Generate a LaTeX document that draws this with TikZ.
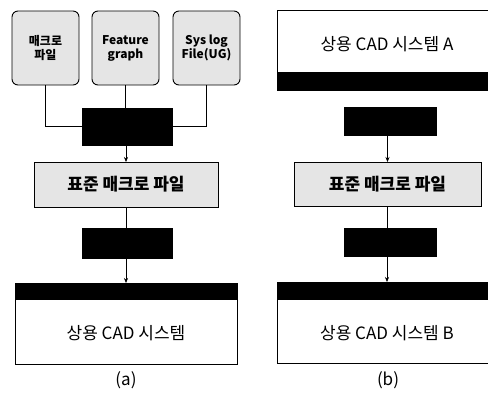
\documentclass[tikz,border=0pt]{standalone}
\usepackage{fontspec}
\setmainfont{Noto Sans CJK KR}
\usetikzlibrary{arrows.meta}
\begin{document}
\begin{tikzpicture}[x=1pt,y=-1pt,
  every node/.style={inner sep=0pt, outer sep=0pt},
  src/.style={draw=black, line width=0.9pt, rounded corners=6pt, fill=black!10,
    minimum width=67pt, minimum height=74pt, align=center,
    font=\fontsize{12}{14}\selectfont\bfseries},
  conv/.style={fill=black, draw=black, minimum width=90pt},
  stdbox/.style={draw=black, line width=0.8pt, fill=black!10, minimum height=45pt,
    font=\fontsize{17}{19}\selectfont\bfseries},
  cadbox/.style={draw=black, line width=0.8pt, fill=white, minimum height=81pt},
  cadtext/.style={font=\fontsize{17}{19}\selectfont},
  caption/.style={font=\fontsize{17}{19}\selectfont},
  link/.style={draw=black, line width=0.6pt},
  flow/.style={link, -{Stealth[length=5pt,width=4pt]}}
]
\useasboundingbox (0,0) rectangle (488,392);
\clip (0,0) rectangle (488,392);

% ---------- (a) ----------
\node[src] (m1) at (45.5,48) {매크로\\파일};
\node[src] (m2) at (125.5,48) {Feature\\graph};
\node[src] (m3) at (206.5,48) {Sys log\\File(UG)};
\node[conv, minimum height=37pt] (c1) at (127,126.5) {};
\node[stdbox, minimum width=184pt] (s1) at (126,184.5) {표준 매크로 파일};
\node[conv, minimum height=30pt] (c2) at (127,243) {};
\node[cadbox, minimum width=222pt] (d1) at (126,323.5) {};
\fill[black] (d1.north west) rectangle ([yshift=-17pt]d1.north east);
\node[cadtext] (t1) at (126,333) {상용 CAD 시스템};
\node[caption] (la) at (126,380) {(a)};

\draw[link] (m1.south) |- (c1.west);
\draw[link] (m3.south) |- (c1.east);
\draw[link] (m2.south) -- (m2.south |- c1.north);
\draw[flow] (c1.south -| s1.north) -- (s1.north);
\draw[link] (s1.south) -- (s1.south |- c2.north);
\draw[flow] (c2.south -| d1.north) -- (d1.north);

% ---------- (b) ----------
\node[cadbox, minimum width=220pt, minimum height=80pt] (dA) at (387,50) {};
\fill[black] ([yshift=18pt]dA.south west) rectangle (dA.south east);
\node[cadtext] (tA) at (387,44) {상용 CAD 시스템 A};
\node[conv, minimum width=92pt, minimum height=28pt] (c3) at (390,121) {};
\node[stdbox, minimum width=187pt, minimum height=44pt] (s2) at (387.5,184) {표준 매크로 파일};
\node[conv, minimum width=92pt, minimum height=28pt] (c4) at (390,242) {};
\node[cadbox, minimum width=220pt] (dB) at (387,322.5) {};
\fill[black] (dB.north west) rectangle ([yshift=-18pt]dB.north east);
\node[cadtext] (tB) at (387,333) {상용 CAD 시스템 B};
\node[caption] (lb) at (388,380) {(b)};

\draw[link] (dA.south -| s2.north) -- (dA.south -| s2.north |- c3.north);
\draw[flow] (c3.south -| s2.north) -- (s2.north);
\draw[link] (s2.south) -- (s2.south |- c4.north);
\draw[flow] (c4.south -| dB.north) -- (dB.north);
\end{tikzpicture}
\end{document}
